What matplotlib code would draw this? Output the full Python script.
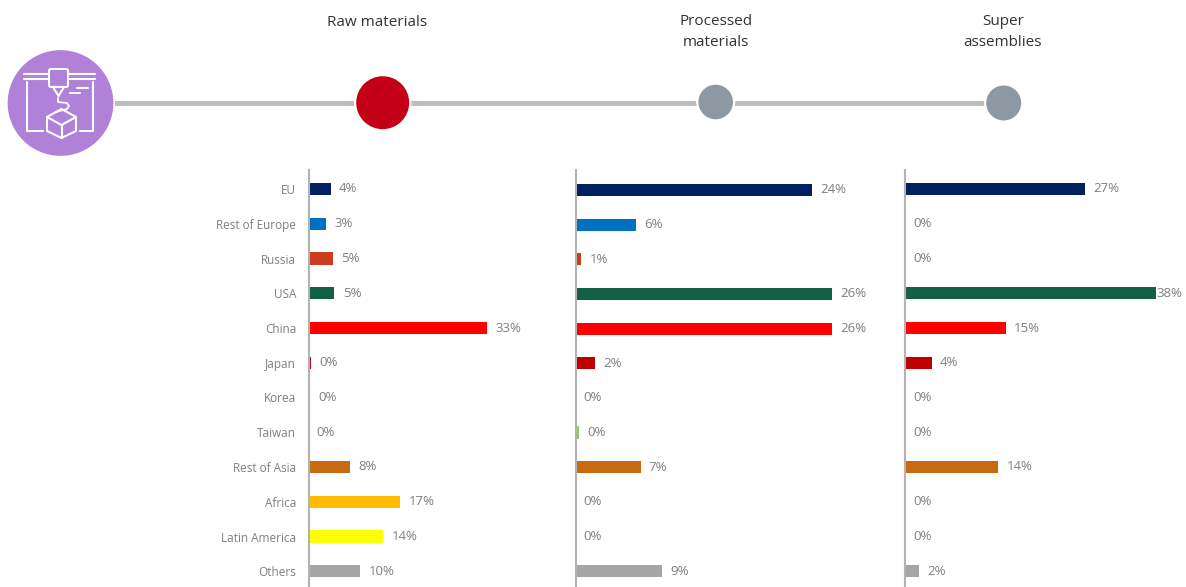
import matplotlib
matplotlib.use('Agg')
import matplotlib.pyplot as plt
from matplotlib.patches import Circle, FancyBboxPatch, Polygon

W, H = 1186, 587

REGIONS = ['EU', 'Rest of Europe', 'Russia', 'USA', 'China', 'Japan', 'Korea',
           'Taiwan', 'Rest of Asia', 'Africa', 'Latin America', 'Others']
COLORS = ['#002060', '#0070C0', '#CC3D1F', '#126045', '#FF0000', '#C00000',
          '#FFD966', '#92D050', '#C56A10', '#FFBC00', '#FFFF00', '#A6A6A6']

STEPS = ['Raw materials', 'Processed\nmaterials', 'Super\nassemblies']

# bar lengths, printed labels kept apart as they are rounded
RAW = [4.1, 3.2, 4.5, 4.8, 33.0, 0.4, 0.3, 0.0, 7.7, 17.0, 13.8, 9.6]
PROCESSED = [24.0, 6.1, 0.6, 26.0, 26.0, 2.0, 0.0, 0.4, 6.6, 0.0, 0.0, 8.8]
SUPER = [27.0, 0.0, 0.0, 37.6, 15.1, 4.0, 0.0, 0.0, 14.0, 0.0, 0.0, 2.1]

RAW_LABELS = ['4%', '3%', '5%', '5%', '33%', '0%', '0%', '0%', '8%', '17%', '14%', '10%']
PROCESSED_LABELS = ['24%', '6%', '1%', '26%', '26%', '2%', '0%', '0%', '7%', '0%', '0%', '9%']
SUPER_LABELS = ['27%', '0%', '0%', '38%', '15%', '4%', '0%', '0%', '14%', '0%', '0%', '2%']

GREY_TEXT = '#7F7F7F'
AXIS_GREY = '#B3B3B3'
LINE_GREY = '#BDBDBD'
PURPLE = '#B180D8'
STEP_GREY = '#8D98A3'


def main():
    plt.rcParams['font.family'] = ['Open Sans', 'DejaVu Sans']

    fig = plt.figure(figsize=(W / 100, H / 100), dpi=100)

    plot_header(fig)

    # left edge in pixels, pixels per percent
    plot_panel(fig, 308.5, 5.4, RAW, RAW_LABELS, first_row=189, step=34.75, labels=True)
    plot_panel(fig, 575.5, 9.85, PROCESSED, PROCESSED_LABELS, first_row=190, step=34.65)
    plot_panel(fig, 905, 6.67, SUPER, SUPER_LABELS, first_row=189, step=34.75)

    fig.savefig('out.png', dpi=100)


def plot_panel(fig, left, scale, values, value_labels, first_row, step, labels=False):
    top, bottom = 170, 587
    ax = fig.add_axes([left / W, 0, 270 / W, (bottom - top) / H])
    ax.patch.set_alpha(0)

    y = list(range(len(values)))
    ax.barh(y, values, height=0.35, color=COLORS)

    ax.set_xlim(0, 270 / scale)
    ax.set_ylim((bottom - first_row) / step, (top - first_row) / step)

    for side in ['top', 'right', 'bottom']:
        ax.spines[side].set_visible(False)
    ax.spines['left'].set_color(AXIS_GREY)
    ax.spines['left'].set_linewidth(1.5)

    ax.set_xticks([])
    ax.set_yticks(y)
    ax.tick_params(axis='y', length=0, pad=8.8, labelsize=8.5, labelcolor=GREY_TEXT)
    if labels:
        ax.set_yticklabels(REGIONS)
    else:
        ax.set_yticklabels([])

    for i, (v, l) in enumerate(zip(values, value_labels)):
        # the longest bar has its label pushed up against the bar end
        offset = 0.5 if l == '38%' else 6
        ax.annotate(l, (v, i), xytext=(offset, 0), textcoords='offset points',
                    va='center', ha='left', fontsize=9.5, color=GREY_TEXT,
                    annotation_clip=False)


def plot_header(fig):
    ax = fig.add_axes([0, 0, 1, 1])
    ax.set_xlim(0, W)
    ax.set_ylim(H, 0)
    ax.axis('off')

    ax.plot([110, 1000], [102.5, 102.5], color=LINE_GREY, lw=3.6, zorder=1,
            solid_capstyle='butt')

    ax.add_patch(Circle((60.5, 103), 53.7, fc=PURPLE, ec='white', lw=1.2, zorder=2))
    ax.add_patch(Circle((382.7, 102.7), 27.6, fc='#C40018', ec='white', lw=1.6, zorder=2))
    ax.add_patch(Circle((715.7, 102), 18.4, fc=STEP_GREY, ec='white', lw=1.6, zorder=2))
    ax.add_patch(Circle((1003.7, 103), 18.6, fc=STEP_GREY, ec='white', lw=1.6, zorder=2))

    plot_icon(ax)

    for x, y, s in zip([377, 716, 1003], [22.5, 32, 32], STEPS):
        ax.text(x, y, s, ha='center', va='center', fontsize=11, color='#333333',
                linespacing=1.5)


def plot_icon(ax):
    # printer icon, white line art
    def line(xs, ys, lw=1.5):
        ax.plot(xs, ys, color='white', lw=lw, zorder=3, solid_capstyle='round',
                solid_joinstyle='round')

    line([24, 95], [74, 74])
    line([24, 95], [79, 79])
    ax.add_patch(FancyBboxPatch((51, 71), 15, 14, boxstyle='round,pad=2', fc=PURPLE,
                                ec='white', lw=1.5, zorder=4))
    ax.add_patch(Polygon([[53, 87], [64, 87], [58.5, 96]], fc=PURPLE, ec='white',
                         lw=1.5, zorder=4))
    line([54, 54], [72.7, 73.3], lw=1.2)
    line([54, 54], [77.7, 78.3], lw=1.2)
    line([77, 88], [88, 88])
    line([70, 80], [93, 93])
    line([27, 27, 43], [82, 131, 131])
    line([92.5, 92.5, 80], [82, 131, 131])
    line([58, 58, 67, 69, 67, 56], [98, 102, 103, 106, 109, 112], lw=1.3)
    line([47, 61.5, 76, 76, 61.5, 47, 47], [117, 109, 117, 131, 138, 131, 117])
    line([47, 61.5, 76], [117, 125, 117])
    line([61.5, 61.5], [125, 138])


if __name__ == '__main__':
    main()
